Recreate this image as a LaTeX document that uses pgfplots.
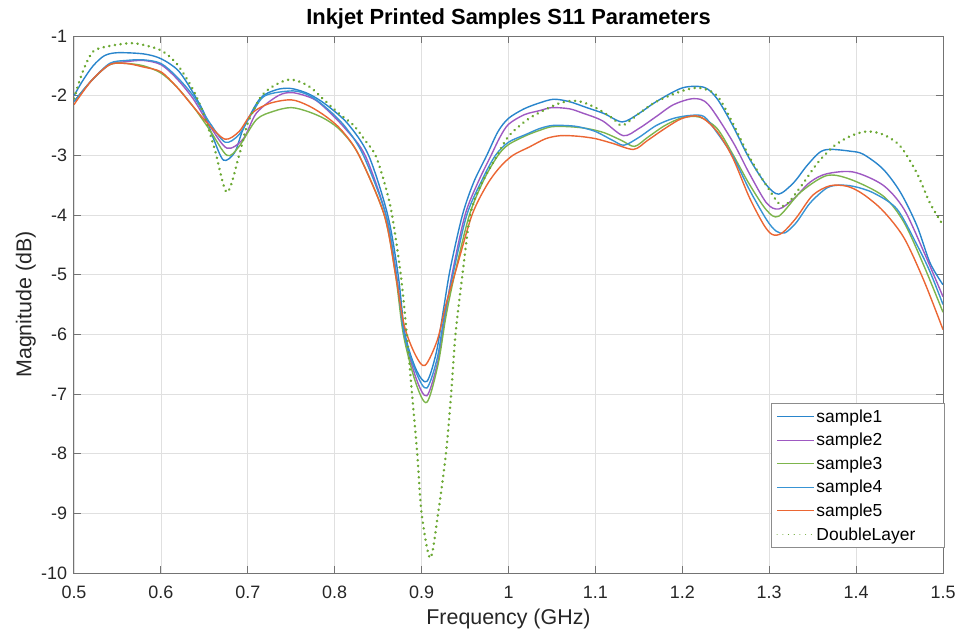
\documentclass[border=0pt]{standalone}
\usepackage{pgfplots}
\pgfplotsset{compat=1.18}
\usepackage{fontspec}
\setmainfont{Liberation Sans}
\definecolor{cA}{rgb}{0.16,0.52,0.80}
\definecolor{cB}{rgb}{0.62,0.35,0.76}
\definecolor{cC}{rgb}{0.49,0.71,0.30}
\definecolor{cD}{rgb}{0.22,0.58,0.83}
\definecolor{cE}{rgb}{0.92,0.40,0.20}
\definecolor{cF}{rgb}{0.42,0.66,0.20}
\definecolor{axc}{rgb}{0.15,0.15,0.15}
\begin{document}
\begin{tikzpicture}
\begin{axis}[
  scale only axis,
  width=869bp, height=537bp,
  xmin=0.5, xmax=1.5, ymin=-10, ymax=-1,
  xtick={0.5,0.6,...,1.5},
  xticklabels={0.5,0.6,0.7,0.8,0.9,1,1.1,1.2,1.3,1.4,1.5},
  ytick={-10,-9,...,-1},
  /pgf/number format/assume math mode=true,
  tick label style={font=\fontsize{18}{21}\selectfont, text=axc},
  x tick label style={yshift=-9.5bp},
  y tick label style={xshift=-3.5bp},
  label style={font=\fontsize{21.5}{25}\selectfont, text=axc},
  title style={font=\fontsize{22}{26}\selectfont\bfseries, at={(axis description cs:0.5,1.0105)}, anchor=base},
  title={Inkjet Printed Samples S11 Parameters},
  xlabel={Frequency (GHz)},
  ylabel={Magnitude (dB)},
  xlabel style={at={(axis description cs:0.5,-0.0968)}, anchor=base},
  ylabel style={at={(axis description cs:-0.049,0.5)}, anchor=base},
  grid=major,
  major grid style={color=black!12, line width=0.8bp},
  axis line style={color=black!55, line width=1bp},
  tick style={color=black!55, line width=1bp},
  tick align=inside,
  major tick length=7bp,
  xtick pos=both, ytick pos=both,
  legend style={font=\fontsize{17.5}{20}\selectfont, draw=black!45, line width=0.8bp, at={(1.002,0.0466)}, anchor=south east, row sep=5.5bp, inner xsep=5bp, inner ysep=4bp},
  legend cell align=left,
  legend image post style={xscale=2.17, line width=1bp},
  every axis plot/.append style={line width=1.4bp, smooth, tension=0.5},
]
% sample1
\addplot[color=cA] coordinates {
(0.5,-2.0)(0.51,-1.75)(0.522,-1.5)(0.535,-1.33)(0.55,-1.28)(0.58,-1.3)(0.6,-1.38)(0.62,-1.58)(0.637,-1.95)(0.65,-2.3)(0.66,-2.7)(0.672,-3.08)(0.685,-2.95)(0.695,-2.55)(0.714,-2.05)(0.733,-1.9)(0.75,-1.88)(0.77,-1.97)(0.79,-2.15)(0.815,-2.47)(0.839,-3.0)(0.861,-4.0)(0.873,-5.0)(0.881,-6.0)(0.894,-6.6)(0.906,-6.79)(0.917,-6.3)(0.925,-5.6)(0.933,-4.9)(0.947,-4.0)(0.96,-3.45)(0.975,-3.0)(0.988,-2.6)(1.0,-2.38)(1.018,-2.22)(1.036,-2.12)(1.052,-2.06)(1.07,-2.1)(1.09,-2.2)(1.11,-2.3)(1.131,-2.44)(1.15,-2.3)(1.17,-2.1)(1.2,-1.87)(1.225,-1.86)(1.24,-2.05)(1.258,-2.5)(1.277,-3.05)(1.297,-3.5)(1.311,-3.65)(1.328,-3.46)(1.343,-3.18)(1.358,-2.95)(1.37,-2.9)(1.393,-2.93)(1.408,-2.98)(1.431,-3.23)(1.451,-3.62)(1.47,-4.18)(1.485,-4.8)(1.5,-5.17)
};
\addlegendentry{sample1}
% sample2
\addplot[color=cB] coordinates {
(0.5,-2.1)(0.52,-1.75)(0.541,-1.48)(0.56,-1.43)(0.58,-1.41)(0.6,-1.48)(0.618,-1.71)(0.637,-2.05)(0.656,-2.5)(0.676,-2.88)(0.695,-2.72)(0.71,-2.29)(0.735,-2.0)(0.752,-1.95)(0.775,-2.05)(0.79,-2.22)(0.812,-2.55)(0.835,-3.0)(0.859,-4.0)(0.871,-5.0)(0.88,-6.0)(0.894,-6.75)(0.906,-7.03)(0.918,-6.5)(0.926,-5.8)(0.935,-5.0)(0.95,-4.0)(0.965,-3.45)(0.98,-3.0)(0.99,-2.7)(1.0,-2.48)(1.018,-2.32)(1.036,-2.25)(1.05,-2.2)(1.07,-2.22)(1.085,-2.29)(1.108,-2.42)(1.132,-2.67)(1.15,-2.55)(1.17,-2.35)(1.19,-2.15)(1.213,-2.05)(1.23,-2.15)(1.258,-2.77)(1.277,-3.3)(1.297,-3.8)(1.311,-3.9)(1.328,-3.73)(1.347,-3.45)(1.366,-3.31)(1.397,-3.28)(1.431,-3.5)(1.455,-3.9)(1.478,-4.62)(1.5,-5.37)
};
\addlegendentry{sample2}
% sample3
\addplot[color=cC] coordinates {
(0.5,-2.1)(0.52,-1.75)(0.541,-1.48)(0.56,-1.46)(0.58,-1.5)(0.6,-1.62)(0.618,-1.85)(0.637,-2.18)(0.656,-2.57)(0.676,-3.0)(0.69,-2.85)(0.71,-2.4)(0.73,-2.26)(0.75,-2.2)(0.77,-2.27)(0.79,-2.4)(0.808,-2.6)(0.828,-3.0)(0.857,-4.0)(0.87,-5.0)(0.879,-6.0)(0.893,-6.8)(0.906,-7.14)(0.919,-6.5)(0.928,-5.7)(0.938,-5.0)(0.955,-4.0)(0.972,-3.4)(0.988,-3.0)(1.0,-2.82)(1.02,-2.67)(1.036,-2.58)(1.05,-2.52)(1.07,-2.52)(1.09,-2.55)(1.11,-2.62)(1.13,-2.75)(1.145,-2.85)(1.16,-2.7)(1.18,-2.5)(1.2,-2.37)(1.22,-2.36)(1.24,-2.55)(1.258,-2.98)(1.277,-3.48)(1.297,-3.92)(1.311,-4.02)(1.336,-3.62)(1.366,-3.34)(1.393,-3.4)(1.431,-3.68)(1.455,-4.12)(1.478,-4.85)(1.5,-5.63)
};
\addlegendentry{sample3}
% sample4
\addplot[color=cD] coordinates {
(0.5,-2.1)(0.52,-1.75)(0.541,-1.46)(0.56,-1.41)(0.58,-1.4)(0.6,-1.46)(0.618,-1.68)(0.637,-2.0)(0.656,-2.45)(0.674,-2.78)(0.69,-2.65)(0.705,-2.29)(0.72,-2.0)(0.752,-1.92)(0.771,-2.0)(0.79,-2.2)(0.812,-2.52)(0.833,-3.0)(0.859,-4.0)(0.871,-5.0)(0.88,-6.0)(0.894,-6.65)(0.906,-6.9)(0.918,-6.4)(0.926,-5.7)(0.936,-5.0)(0.952,-4.0)(0.97,-3.4)(0.985,-3.0)(1.0,-2.78)(1.02,-2.65)(1.036,-2.55)(1.05,-2.5)(1.065,-2.5)(1.08,-2.52)(1.1,-2.6)(1.12,-2.75)(1.133,-2.83)(1.15,-2.7)(1.17,-2.5)(1.19,-2.38)(1.21,-2.33)(1.225,-2.35)(1.239,-2.6)(1.258,-3.01)(1.277,-3.57)(1.297,-4.08)(1.308,-4.27)(1.318,-4.3)(1.331,-4.13)(1.347,-3.8)(1.366,-3.55)(1.38,-3.5)(1.397,-3.52)(1.42,-3.63)(1.447,-3.9)(1.47,-4.5)(1.485,-4.95)(1.5,-5.5)
};
\addlegendentry{sample4}
% sample5
\addplot[color=cE] coordinates {
(0.5,-2.15)(0.52,-1.75)(0.541,-1.48)(0.56,-1.46)(0.58,-1.52)(0.6,-1.6)(0.618,-1.85)(0.637,-2.18)(0.656,-2.5)(0.674,-2.73)(0.69,-2.6)(0.705,-2.29)(0.725,-2.13)(0.75,-2.07)(0.77,-2.17)(0.79,-2.35)(0.808,-2.58)(0.828,-3.0)(0.857,-4.0)(0.87,-5.0)(0.88,-5.85)(0.893,-6.35)(0.904,-6.52)(0.918,-6.1)(0.928,-5.5)(0.94,-4.9)(0.958,-4.0)(0.975,-3.5)(0.99,-3.2)(1.005,-3.0)(1.024,-2.86)(1.043,-2.72)(1.06,-2.67)(1.08,-2.68)(1.1,-2.72)(1.12,-2.8)(1.144,-2.9)(1.16,-2.75)(1.18,-2.55)(1.2,-2.38)(1.22,-2.35)(1.24,-2.6)(1.258,-3.04)(1.277,-3.7)(1.294,-4.17)(1.304,-4.33)(1.315,-4.3)(1.331,-4.05)(1.35,-3.67)(1.37,-3.51)(1.39,-3.52)(1.408,-3.65)(1.431,-3.93)(1.455,-4.38)(1.478,-5.1)(1.5,-5.92)
};
\addlegendentry{sample5}
% DoubleLayer
\addplot[color=cF, line width=2.7bp, line cap=round, dash pattern=on 0.1bp off 5.6bp] coordinates {
(0.5,-2.05)(0.51,-1.6)(0.522,-1.26)(0.54,-1.17)(0.565,-1.12)(0.58,-1.15)(0.6,-1.24)(0.618,-1.46)(0.637,-1.9)(0.65,-2.34)(0.662,-2.9)(0.676,-3.62)(0.69,-3.0)(0.7,-2.46)(0.716,-2.0)(0.733,-1.81)(0.75,-1.73)(0.77,-1.84)(0.79,-2.1)(0.805,-2.3)(0.822,-2.5)(0.835,-2.75)(0.847,-3.0)(0.858,-3.5)(0.866,-4.0)(0.876,-5.0)(0.883,-6.0)(0.889,-7.0)(0.895,-8.0)(0.9,-9.0)(0.91,-9.75)(0.919,-9.0)(0.928,-8.0)(0.934,-7.0)(0.939,-6.0)(0.947,-5.0)(0.956,-4.0)(0.968,-3.5)(0.987,-3.0)(1.0,-2.68)(1.02,-2.42)(1.036,-2.28)(1.06,-2.12)(1.08,-2.09)(1.1,-2.2)(1.12,-2.38)(1.131,-2.5)(1.15,-2.3)(1.17,-2.1)(1.2,-1.92)(1.22,-1.87)(1.24,-2.0)(1.258,-2.46)(1.277,-3.02)(1.297,-3.51)(1.316,-3.85)(1.336,-3.53)(1.355,-3.14)(1.374,-2.85)(1.393,-2.68)(1.412,-2.6)(1.431,-2.65)(1.451,-2.85)(1.47,-3.3)(1.485,-3.8)(1.5,-4.17)
};
\addlegendentry{DoubleLayer\rule{22bp}{0pt}}
\end{axis}
\pgfresetboundingbox
\path[use as bounding box] (current axis.south west) ++(-74bp,-60bp) rectangle ++(959bp,633bp);
\end{tikzpicture}
\end{document}
